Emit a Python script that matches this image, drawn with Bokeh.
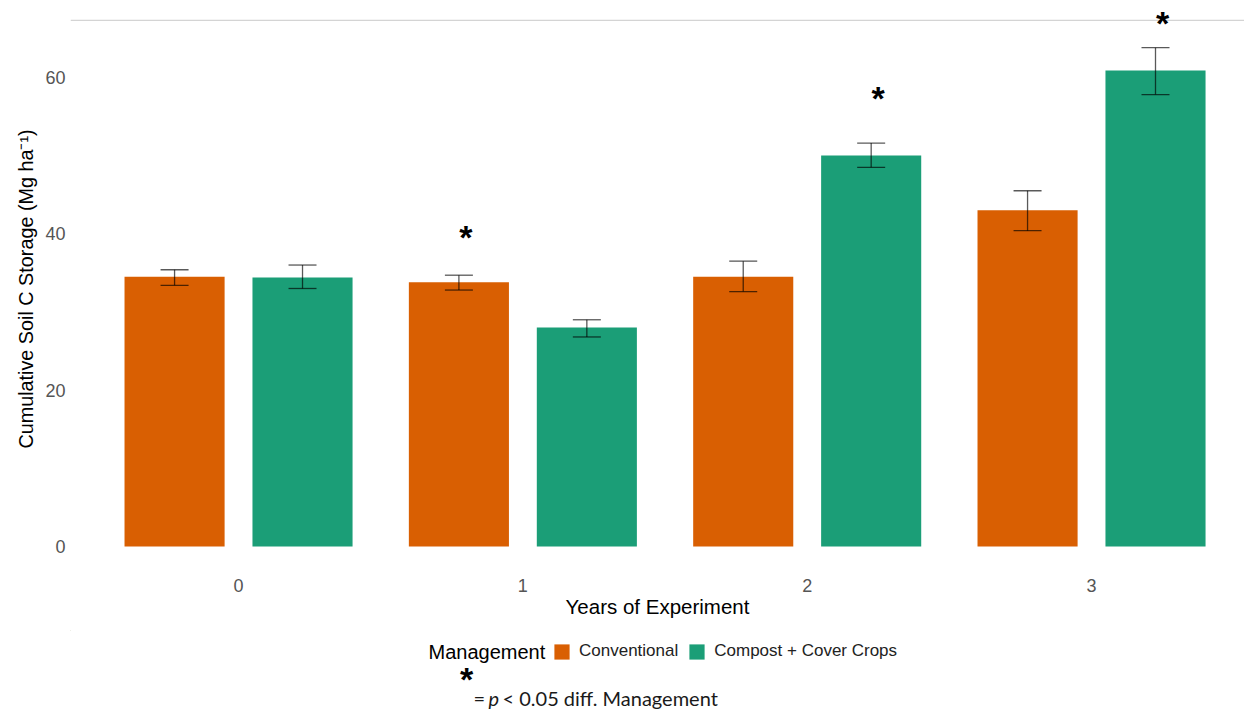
from bokeh.plotting import figure
from bokeh.layouts import column
from bokeh.models import (ColumnDataSource, Whisker, TeeHead, Legend, LegendItem,
                          Label, Span, FixedTicker, Range1d)
from bokeh.core.properties import value
from bokeh.embed import file_html
from bokeh.resources import INLINE

# ---------------- data ----------------
years = [0, 1, 2, 3]
year_labels = ["0", "1", "2", "3"]
groups = ["Conventional", "Compost + Cover Crops"]
colors = ["#D95F02", "#1B9E77"]

conv_mean = [34.5, 33.8, 34.5, 43.0]
conv_lo = [33.4, 32.8, 32.6, 40.4]
conv_hi = [35.4, 34.7, 36.5, 45.5]

comp_mean = [34.4, 28.0, 50.0, 60.9]
comp_lo = [33.0, 26.8, 48.5, 57.8]
comp_hi = [36.0, 29.0, 51.6, 63.8]

sig_year = [1, 2, 3]
sig_group = [0, 1, 1]          # index into groups
sig_y = [40.0, 57.7, 67.3]

y_ticks = [0, 20, 40, 60]

# ---------------- layout constants ----------------
DODGE = 0.225
BAR_W = 0.352
FONT = "Liberation Sans"
W = 1244
H_MAIN = 630
H_FOOT = 709 - H_MAIN
LEFT = 70

conv_x = [y - DODGE for y in years]
comp_x = [y + DODGE for y in years]

src_conv = ColumnDataSource(dict(x=conv_x, top=conv_mean, lo=conv_lo, hi=conv_hi))
src_comp = ColumnDataSource(dict(x=comp_x, top=comp_mean, lo=comp_lo, hi=comp_hi))
offs = [-DODGE, DODGE]
src_sig = ColumnDataSource(dict(x=[y + offs[g] for y, g in zip(sig_year, sig_group)],
                                y=sig_y, t=["*"] * len(sig_y)))

p = figure(width=W, height=H_MAIN, output_backend="svg", toolbar_location=None,
           x_range=(-0.591, 3.538), y_range=(-3.33, 69.2),
           min_border_left=LEFT, min_border_right=0, min_border_top=5,
           min_border_bottom=H_MAIN - 572)
p.outline_line_color = None
p.background_fill_color = "white"
p.border_fill_color = "white"
p.xgrid.visible = False
p.ygrid.visible = False

top_line = Span(location=67.29, dimension="width", line_color="#d4d4d4", line_width=1.3)
top_line.level = "underlay"
p.add_layout(top_line)

r_conv = p.vbar(x="x", top="top", bottom=0, width=BAR_W, source=src_conv,
                fill_color=colors[0], line_color=None)
r_comp = p.vbar(x="x", top="top", bottom=0, width=BAR_W, source=src_comp,
                fill_color=colors[1], line_color=None)

for src in (src_conv, src_comp):
    w = Whisker(source=src, base="x", upper="hi", lower="lo",
                line_color="black", line_alpha=0.65, line_width=1.3,
                upper_head=TeeHead(size=28, line_color="black", line_alpha=0.65, line_width=1.3),
                lower_head=TeeHead(size=28, line_color="black", line_alpha=0.65, line_width=1.3))
    w.level = "annotation"
    p.add_layout(w)

p.text(x="x", y="y", text="t", source=src_sig, text_font=value(FONT),
       text_font_style="bold", text_font_size="34px", text_color="black",
       text_align="center", text_baseline="middle", x_offset=7, y_offset=3)

# axes
p.xaxis.ticker = FixedTicker(ticks=years)
p.xaxis.major_label_overrides = {y: l for y, l in zip(years, year_labels)}
p.yaxis.ticker = FixedTicker(ticks=y_ticks)
for ax in (p.xaxis[0], p.yaxis[0]):
    ax.axis_line_color = None
    ax.major_tick_line_color = None
    ax.minor_tick_line_color = None
    ax.major_tick_out = 0
    ax.major_tick_in = 0
    ax.minor_tick_out = 0
    ax.minor_tick_in = 0
    ax.major_label_text_font = FONT
    ax.major_label_text_font_size = "18px"
    ax.major_label_text_color = "#555555"
    ax.axis_label_text_font = FONT
    ax.axis_label_text_font_style = "normal"
    ax.axis_label_text_color = "black"
p.xaxis.axis_label_text_font_size = "20.5px"
p.yaxis.axis_label_text_font_size = "19.8px"
p.xaxis.axis_label = "Years of Experiment"
p.yaxis.axis_label = "Cumulative Soil C Storage (Mg ha\u207b\u00b9)"
p.xaxis.major_label_standoff = 6
p.xaxis.axis_label_standoff = 0
p.yaxis.major_label_standoff = 5
p.yaxis.axis_label_standoff = 5

# ---------------- bottom strip: legend + footnote ----------------
# coordinates in this strip are canvas pixels (y grows downward)
f = figure(width=W, height=H_FOOT, output_backend="svg", toolbar_location=None,
           x_range=Range1d(LEFT, W), y_range=Range1d(709, H_MAIN),
           min_border_left=LEFT, min_border_right=0,
           min_border_top=0, min_border_bottom=0)
f.axis.visible = False
f.grid.visible = False
f.outline_line_color = None
f.background_fill_color = "white"
f.border_fill_color = "white"

# legend key proxies (kept outside the visible strip)
k_conv = f.vbar(x=[-100], top=[0], bottom=[1], width=1,
                fill_color=colors[0], line_color=None)
k_comp = f.vbar(x=[-100], top=[0], bottom=[1], width=1,
                fill_color=colors[1], line_color=None)

legend = Legend(items=[LegendItem(label=groups[0], renderers=[k_conv]),
                       LegendItem(label=groups[1], renderers=[k_comp])],
                orientation="horizontal", location=(552 - LEFT, 709 - 661),
                border_line_color=None, background_fill_alpha=0,
                padding=0, margin=0, glyph_width=19, glyph_height=19,
                label_standoff=8, spacing=9,
                label_text_font=FONT, label_text_font_size="17px",
                label_text_color="#222222")
f.add_layout(legend)

f.add_layout(Label(x=428, y=651, text="Management", text_font=FONT,
                   text_font_size="20px", text_color="black",
                   text_align="left", text_baseline="middle"))

NOTE_COLOR = "#1a1a1a"
f.add_layout(Label(x=466, y=681, text="*", text_font=FONT, text_font_style="bold",
                   text_font_size="34px", text_align="center", text_baseline="middle",
                   y_offset=3, text_color="black"))
f.add_layout(Label(x=473, y=697, text="=", text_font="Lato", text_color=NOTE_COLOR,
                   text_font_size="20px", text_align="left", text_baseline="alphabetic"))
f.add_layout(Label(x=488, y=697, text="p", text_font="Lato", text_font_style="italic",
                   text_color=NOTE_COLOR,
                   text_font_size="20px", text_align="left", text_baseline="alphabetic"))
f.add_layout(Label(x=502, y=697, text="< 0.05 diff. Management", text_font="Lato",
                   text_color=NOTE_COLOR,
                   text_font_size="20px", text_align="left", text_baseline="alphabetic"))

open("out.html", "w").write(file_html(column(p, f, spacing=0), INLINE))
